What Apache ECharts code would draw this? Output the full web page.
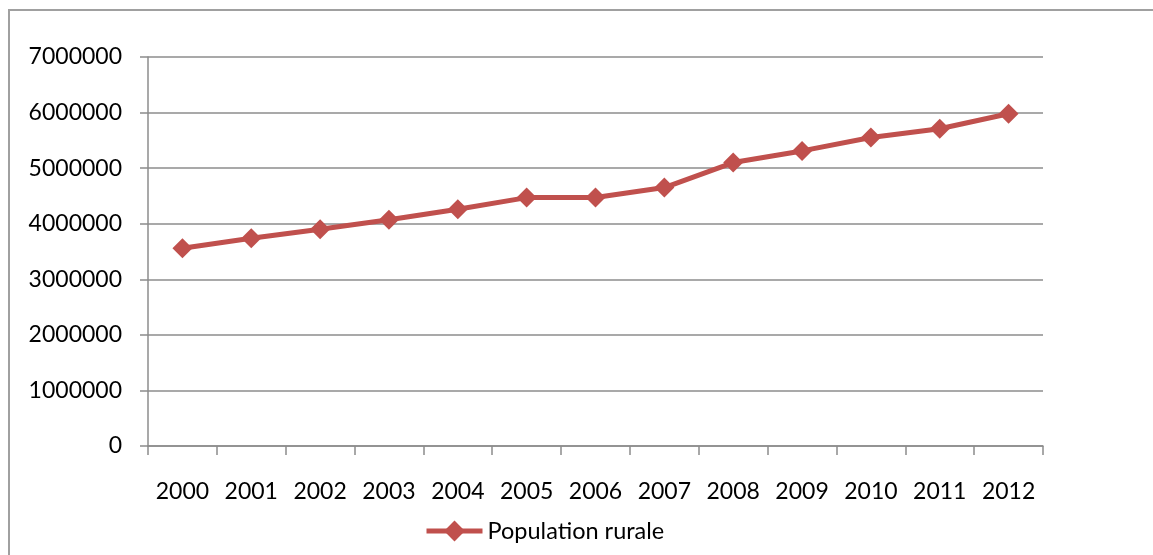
<!DOCTYPE html>
<html>
<head>
<meta charset="utf-8">
<style>
  html, body { margin: 0; padding: 0; background: #fff; }
  #chart { width: 1153px; height: 555px; }
</style>
<script src="https://cdn.jsdelivr.net/npm/echarts@6/dist/echarts.min.js"></script>
</head>
<body>
<div id="chart"></div>
<script>
// Rural population by year
const years = ['2000', '2001', '2002', '2003', '2004', '2005', '2006',
               '2007', '2008', '2009', '2010', '2011', '2012'];
const ruralPopulation = [3560000, 3740000, 3900000, 4070000, 4260000, 4470000, 4470000,
                         4650000, 5100000, 5310000, 5550000, 5710000, 5980000];
const seriesName = 'Population rurale';

const FONT = 'Lato, "Open Sans", sans-serif';
const RED = '#C0504D';
const GRID_GREY = '#8c8c8c';

const chart = echarts.init(document.getElementById('chart'), null, { renderer: 'canvas' });

chart.setOption({
  animation: false,
  backgroundColor: '#ffffff',
  textStyle: { fontFamily: FONT },
  graphic: [{
    type: 'polyline',
    shape: { points: [[9, 556], [9, 10], [1154, 10]] },
    style: { stroke: '#a0a0a0', lineWidth: 2, fill: null },
    silent: true
  }],
  grid: { left: 148, right: 110, top: 57, bottom: 109, containLabel: false },
  legend: {
    data: [seriesName],
    left: 419,
    top: 514,
    itemWidth: 56,
    itemHeight: 26,
    itemGap: 4,
    lineStyle: { width: 5, color: RED },
    itemStyle: { color: RED },
    textStyle: { fontFamily: FONT, fontSize: 23.5, color: '#000' }
  },
  xAxis: {
    type: 'category',
    data: years,
    boundaryGap: true,
    axisLine: { show: true, lineStyle: { color: GRID_GREY, width: 1.5 } },
    axisTick: { show: true, alignWithLabel: false, length: 9, lineStyle: { color: GRID_GREY, width: 1.5 } },
    axisLabel: { color: '#000', fontFamily: FONT, fontSize: 23, margin: 34, interval: 0 },
    splitLine: { show: false }
  },
  yAxis: {
    type: 'value',
    min: 0,
    max: 7000000,
    interval: 1000000,
    axisLine: { show: true, lineStyle: { color: GRID_GREY, width: 1.5 } },
    axisTick: { show: true, length: 8, lineStyle: { color: GRID_GREY, width: 1.5 } },
    axisLabel: {
      color: '#000', fontFamily: FONT, fontSize: 23, margin: 26,
      formatter: function (v) { return String(v); }
    },
    splitLine: { show: true, lineStyle: { color: GRID_GREY, width: 1.5 } }
  },
  series: [{
    name: seriesName,
    type: 'line',
    data: ruralPopulation,
    symbol: 'diamond',
    symbolSize: 20,
    itemStyle: { color: RED },
    lineStyle: { color: RED, width: 5 },
    emphasis: { disabled: true }
  }]
});
</script>
</body>
</html>
